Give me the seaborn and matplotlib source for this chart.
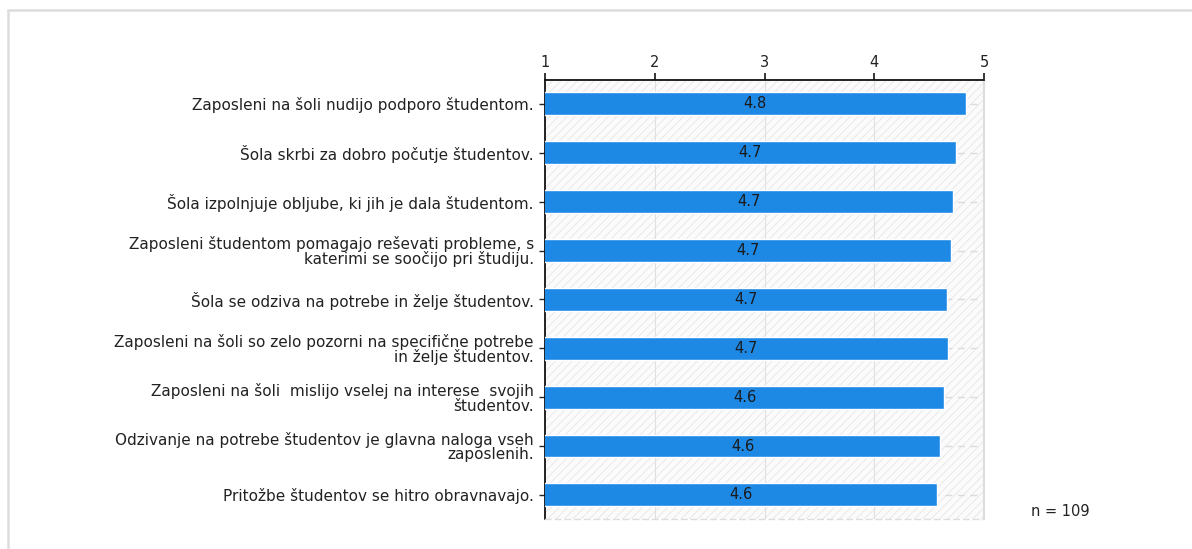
import matplotlib
matplotlib.use('Agg')
import matplotlib.pyplot as plt
import seaborn as sns
import pandas as pd
from matplotlib.patches import Rectangle
from matplotlib.lines import Line2D

# ====== data ======
labels = [
    'Zaposleni na šoli nudijo podporo študentom.',
    'Šola skrbi za dobro počutje študentov.',
    'Šola izpolnjuje obljube, ki jih je dala študentom.',
    'Zaposleni študentom pomagajo reševati probleme, s\nkaterimi se soočijo pri študiju.',
    'Šola se odziva na potrebe in želje študentov.',
    'Zaposleni na šoli so zelo pozorni na specifične potrebe\nin želje študentov.',
    'Zaposleni na šoli  mislijo vselej na interese  svojih\nštudentov.',
    'Odzivanje na potrebe študentov je glavna naloga vseh\nzaposlenih.',
    'Pritožbe študentov se hitro obravnavajo.',
]
values = [4.83, 4.74, 4.72, 4.695, 4.664, 4.667, 4.637, 4.598, 4.570]
x_ticks = [1, 2, 3, 4, 5]
n_text = 'n = 109'

df = pd.DataFrame({'trditev': labels, 'povprecje': values})

sns.set_style('white')
plt.rcParams['font.family'] = ['DejaVu Sans']
plt.rcParams['hatch.linewidth'] = 0.6
plt.rcParams['hatch.color'] = '#e6e6e6'

fig = plt.figure(figsize=(11.92, 5.49), dpi=100)
ax = fig.add_axes([0.4572, 0.0541, 0.3685, 0.801])

# hatched background
bg = Rectangle((0, 0), 1, 1, transform=ax.transAxes, facecolor='#fbfbfb',
               edgecolor='#e6e6e6', hatch='////', linewidth=0, zorder=0)
ax.add_patch(bg)

sns.barplot(data=df, y='trditev', x='povprecje', orient='h', color='#1e88e5',
            saturation=1, width=0.47, ax=ax, zorder=3)

# value labels centred on the visible part of each bar
for p, v in zip(ax.containers[0], values):
    yc = p.get_y() + p.get_height() / 2
    ax.text((1 + v) / 2, yc, f'{v:.1f}', ha='center', va='center',
            fontsize=10.5, color='#1a1a1a', zorder=4)

ax.set_xlim(1, 5)
ax.set_ylim(len(labels) - 0.5, -0.5)
ax.set_xticks(x_ticks)
ax.xaxis.tick_top()
ax.set_xlabel('')
ax.set_ylabel('')

# grid
for x in x_ticks[1:-1]:
    ax.axvline(x, color='#e0e0e0', lw=0.8, zorder=1)
for i in range(len(labels)):
    ax.axhline(i, color='#dcdcdc', lw=1, ls=(0, (5, 4)), zorder=1)

ax.tick_params(axis='x', top=True, direction='out', length=5, width=1.3,
               labelsize=10.5, labelcolor='#222', pad=2)
ax.tick_params(axis='y', left=True, direction='out', length=4, width=1,
               labelsize=11, labelcolor='#222', pad=4)
for lab in ax.get_yticklabels():
    lab.set_linespacing(0.95)

for s in ['top', 'left']:
    ax.spines[s].set_visible(True)
    ax.spines[s].set_color('#111')
    ax.spines[s].set_linewidth(1.3)
ax.spines['right'].set_color('#dddddd')
ax.spines['right'].set_linewidth(1.5)
ax.spines['bottom'].set_color('#dddddd')
ax.spines['bottom'].set_linewidth(1)
ax.spines['bottom'].set_linestyle((0, (4, 3)))

fig.text(0.865, 0.069, n_text, fontsize=10.5, color='#222', va='center')

# outer frame (top and left only)
fig.add_artist(Line2D([0.0063, 1.0], [0.981, 0.981], color='#dddddd', lw=1.8,
                      transform=fig.transFigure))
fig.add_artist(Line2D([0.0063, 0.0063], [0.0, 0.981], color='#dddddd', lw=1.8,
                      transform=fig.transFigure))

fig.savefig('out.png', dpi=100)
